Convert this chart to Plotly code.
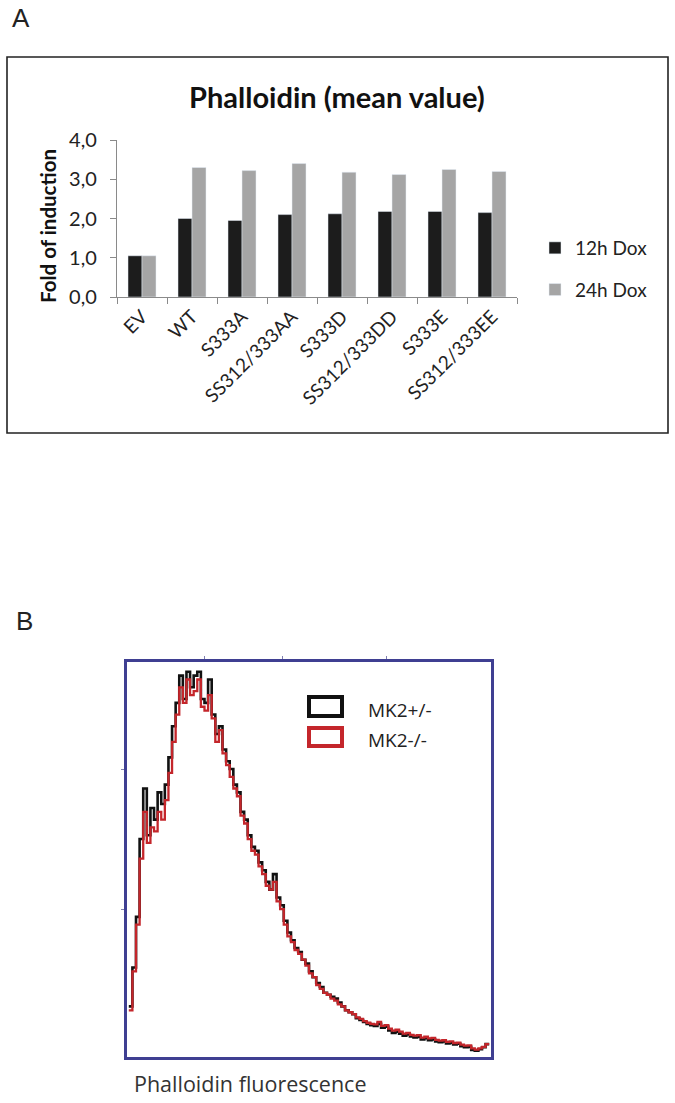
import plotly.graph_objects as go

# ---------------- Panel A data ----------------
categories = ["EV", "WT", "S333A", "SS312/333AA", "S333D", "SS312/333DD", "S333E", "SS312/333EE"]
dox12 = [1.05, 2.00, 1.95, 2.10, 2.12, 2.18, 2.18, 2.15]
dox24 = [1.05, 3.30, 3.22, 3.40, 3.18, 3.12, 3.25, 3.20]
ytick_vals = [0, 1, 2, 3, 4]
ytick_text = ["0,0", "1,0", "2,0", "3,0", "4,0"]

# ---------------- Panel B data ----------------
fluor_bins = list(range(0, 1000, 10))
mk2_het = [12, 22, 35, 55, 68, 56, 63, 60, 67, 64,
           69, 76, 84, 90, 97, 91, 98, 94, 97, 98,
           91, 90, 96, 87, 82, 84, 78, 75, 73, 69,
           67, 62, 60, 56, 53, 52, 49, 47, 44, 42,
           46, 40, 38, 34, 31, 29, 27, 26, 24, 23,
           21, 19.5, 18, 17, 15.5, 15, 14.5, 14, 13, 12,
           11, 10.5, 10, 9, 8.5, 8, 7.5, 7.2, 7, 7.5,
           6.5, 6.8, 5.8, 5.2, 5.5, 5, 4.5, 4.8, 4.3, 4,
           4.2, 3.5, 3.8, 3.3, 3.5, 3, 2.8, 3, 2.5, 2.6,
           2.2, 2.4, 1.8, 1.5, 1.6, 0.8, 0.6, 1.0, 1.5, 2.3]
mk2_ko = [11, 21, 33, 50, 62, 54, 58, 57, 62, 60,
          65, 72, 80, 87, 94, 90, 96, 92, 93, 96,
          89, 88, 92, 86, 80, 83, 77, 74, 71, 68,
          66, 61, 59, 55, 52, 51, 48, 46, 43, 42,
          44, 39, 37, 33, 30, 28.5, 26.5, 25.5, 24, 22.5,
          20.5, 19.5, 17.5, 16.5, 15.5, 15, 14, 13.5, 12.5, 12,
          11, 10.5, 10, 9.2, 8.8, 8.2, 7.8, 7.5, 7.4, 8,
          7, 7.2, 6.3, 5.8, 6, 5.5, 5, 5.2, 4.7, 4.5,
          4.6, 4, 4.2, 3.8, 3.9, 3.4, 3.2, 3.3, 2.9, 3,
          2.6, 2.7, 2.2, 1.9, 2, 1.2, 0.9, 1.2, 1.6, 2.3]
legend_b = ["MK2+/-", "MK2-/-"]
colors_b = ["#111111", "#c4262b"]

W, H = 675, 1103
def px(x):
    return x / W
def py(y):
    return 1 - y / H

fig = go.Figure()

fig.add_trace(go.Bar(x=categories, y=dox12, name="12h Dox", marker_color="#1c1c1c",
                     xaxis="x", yaxis="y", legendgroup="a"))
fig.add_trace(go.Bar(x=categories, y=dox24, name="24h Dox", marker_color="#a5a5a5",
                     xaxis="x", yaxis="y", legendgroup="b"))

xb = fluor_bins + [1000]
fig.add_trace(go.Scatter(x=xb, y=mk2_het + [mk2_het[-1]], mode="lines", line_shape="hv",
                         line=dict(color=colors_b[0], width=2.6), name=legend_b[0],
                         xaxis="x2", yaxis="y2", showlegend=False))
fig.add_trace(go.Scatter(x=xb, y=mk2_ko + [mk2_ko[-1]], mode="lines", line_shape="hv",
                         line=dict(color=colors_b[1], width=2.3), name=legend_b[1],
                         xaxis="x2", yaxis="y2", showlegend=False))

font_a = "Lato, 'Open Sans', sans-serif"
font_b = "'Open Sans', sans-serif"

fig.update_layout(
    width=W, height=H,
    margin=dict(l=0, r=0, t=0, b=0, pad=0, autoexpand=False),
    paper_bgcolor="white", plot_bgcolor="white",
    barmode="group", bargap=0.44, bargroupgap=0,
    font=dict(family=font_a, color="#222"),
    xaxis=dict(domain=[px(117), px(517)], anchor="y", type="category",
               showline=True, linecolor="#8a8a8a", linewidth=1.3,
               ticks="outside", tickson="boundaries", ticklen=6, tickcolor="#8a8a8a",
               tickangle=-45, tickfont=dict(size=19, family=font_a, color="#222"),
               showgrid=False, zeroline=False, automargin=False),
    yaxis=dict(domain=[py(297), py(140)], anchor="x", range=[0, 4],
               tickvals=ytick_vals, ticktext=ytick_text,
               showline=True, linecolor="#8a8a8a", linewidth=1.3,
               ticks="outside", ticklen=6, tickcolor="#8a8a8a",
               ticklabelstandoff=9,
               tickfont=dict(size=20, family=font_a, color="#222"),
               showgrid=False, zeroline=False, automargin=False),
    xaxis2=dict(domain=[px(127), px(491)], anchor="y2", range=[-5, 1005],
                showline=True, mirror=True, linecolor="#3f3f92", linewidth=2.5,
                side="top", ticks="outside", ticklen=3, tickcolor="#8080b0",
                tickvals=[209, 426, 714], showticklabels=False,
                showgrid=False, zeroline=False, automargin=False),
    yaxis2=dict(domain=[py(1057), py(662)], anchor="x2", range=[-1, 100.5],
                showline=True, mirror=True, linecolor="#3f3f92", linewidth=2.5,
                ticks="outside", ticklen=3, tickcolor="#8080b0",
                tickvals=[73, 37], showticklabels=False,
                showgrid=False, zeroline=False, automargin=False),
    legend=dict(x=px(535), y=py(229), xanchor="left", yanchor="top",
                traceorder="grouped", tracegroupgap=14,
                font=dict(size=19, family=font_a, color="#222"),
                bgcolor="rgba(0,0,0,0)"),
    showlegend=True,
)

shapes = [
    dict(type="rect", xref="paper", yref="paper", x0=px(7), x1=px(668), y0=py(433), y1=py(57),
         line=dict(color="#222", width=1.6)),
    dict(type="rect", xref="paper", yref="paper", x0=px(309), x1=px(342), y0=py(716), y1=py(697),
         line=dict(color=colors_b[0], width=4)),
    dict(type="rect", xref="paper", yref="paper", x0=px(309), x1=px(342), y0=py(746), y1=py(728),
         line=dict(color=colors_b[1], width=4)),
]
fig.update_layout(shapes=shapes)

annotations = [
    dict(text="A", x=px(10), y=py(18), xref="paper", yref="paper", xanchor="left", yanchor="middle",
         showarrow=False, font=dict(size=26, family="Liberation Sans, Arial", color="#222")),
    dict(text="B", x=px(14), y=py(621), xref="paper", yref="paper", xanchor="left", yanchor="middle",
         showarrow=False, font=dict(size=26, family="Liberation Sans, Arial", color="#222")),
    dict(text="<b>Phalloidin (mean value)</b>", x=px(337), y=py(96), xref="paper", yref="paper",
         xanchor="center", yanchor="middle", showarrow=False,
         font=dict(size=29, family=font_a, color="#111")),
    dict(text="<b>Fold of induction</b>", x=px(48), y=py(226), xref="paper", yref="paper",
         xanchor="center", yanchor="middle", textangle=-90, showarrow=False,
         font=dict(size=20.5, family=font_a, color="#111")),
    dict(text=legend_b[0], x=px(366), y=py(710), xref="paper", yref="paper",
         xanchor="left", yanchor="middle", showarrow=False,
         font=dict(size=19, family=font_b, color="#222")),
    dict(text=legend_b[1], x=px(366), y=py(740), xref="paper", yref="paper",
         xanchor="left", yanchor="middle", showarrow=False,
         font=dict(size=19, family=font_b, color="#222")),
    dict(text="Phalloidin fluorescence", x=px(132), y=py(1083), xref="paper", yref="paper",
         xanchor="left", yanchor="middle", showarrow=False,
         font=dict(size=21.5, family=font_b, color="#333")),
]
fig.update_layout(annotations=annotations)

fig.write_html("out.html", config={"displayModeBar": False},
               post_script="document.body.style.margin='0px';document.body.style.overflow='hidden';")
